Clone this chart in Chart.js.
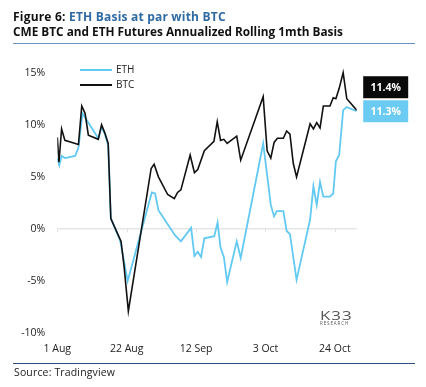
<!DOCTYPE html>
<html>
<head>
<meta charset="utf-8">
<script src="https://cdn.jsdelivr.net/npm/chart.js@4.4.0/dist/chart.umd.min.js"></script>
<style>
  body { margin: 0; background: #fff; font-family: 'Open Sans', sans-serif; }
  #wrap { position: relative; width: 426px; height: 387px; overflow: hidden; }
  #myChart { position: absolute; left: 0; top: 0; }
  .t1, .t2 { position: absolute; left: 13px; font-weight: 700; color: #111; white-space: nowrap; }
  .t1 { top: 8px; font-size: 12px; letter-spacing: 0.2px; }
  .t2 { top: 23px; font-size: 11.8px; }
  .t1 span { color: #2f6aa3; }
  .rule { position: absolute; left: 13px; width: 402px; height: 1px; }
  .src { position: absolute; left: 14px; top: 365px; font-size: 10.5px; letter-spacing: 0.15px; color: #222; }
  .logo { position: absolute; left: 320px; top: 309px; width: 32px; color: #555; line-height: 1; }
  .logo .k { font-size: 13.5px; letter-spacing: 0.8px; font-weight: 400; transform: scaleX(1.25); transform-origin: left; }
  .logo .r { font-size: 4.5px; letter-spacing: 0.9px; margin-top: -1.5px; }
</style>
</head>
<body>
<div id="wrap">
  <canvas id="myChart" width="426" height="387"></canvas>
  <div class="t1">Figure 6: <span>ETH Basis at par with BTC</span></div>
  <div class="t2">CME BTC and ETH Futures Annualized Rolling 1mth Basis</div>
  <div class="rule" style="top:43px;background:#6b93be;"></div>
  <div class="rule" style="top:363px;background:#2d4f7a;"></div>
  <div class="src">Source: Tradingview</div>
  <div class="logo"><div class="k">K33</div><div class="r">RESEARCH</div></div>
</div>
<script>
// days counted from 1 Aug
const btcDays = [0, 0.5, 1.3, 2.3, 6.4, 7.4, 8.4, 9.4, 12.4, 13.4, 14.4, 15.4, 16.2, 19.3, 20.2, 21.5, 28.4, 29.3, 30.6, 33.4, 35.4, 36.4, 37.4, 40.2, 41.5, 42.5, 44.5, 47.4, 48.4, 49.4, 50.4, 51.4, 54.3, 55.5, 62.3, 63.5, 64.6, 65.6, 66.6, 68.4, 69.4, 70.4, 71.4, 72.4, 76.5, 77.5, 78.5, 79.5, 80.5, 82.5, 83.5, 84.3, 85.3, 86.5, 87.6, 90.6];
const btcBasis = [8.8, 6.4, 9.6, 8.5, 8.1, 11.8, 11.1, 9.0, 8.6, 10.0, 9.2, 8.2, 1.0, -1.2, -3.6, -7.9, 5.8, 6.2, 5.0, 3.3, 2.9, 3.5, 3.75, 7.1, 5.4, 5.7, 7.5, 8.4, 10.3, 8.5, 8.6, 8.2, 8.9, 6.6, 12.7, 7.5, 6.8, 8.3, 8.7, 8.7, 9.4, 9.1, 6.3, 5.0, 10.1, 9.6, 10.2, 9.7, 11.8, 11.8, 12.6, 12.5, 13.5, 15.0, 12.5, 11.4];

const ethDays = [0, 0.6, 1.3, 2.3, 5.4, 6.4, 7.6, 12.4, 13.4, 14.4, 15.4, 16.2, 19.0, 21.3, 28.6, 29.6, 30.6, 35.6, 37.4, 40.5, 41.5, 42.5, 43.5, 44.5, 47.5, 48.5, 49.4, 50.4, 51.4, 54.3, 55.5, 62.3, 63.8, 64.6, 65.6, 66.4, 68.4, 69.4, 70.4, 72.4, 76.5, 77.5, 78.5, 79.5, 80.5, 82.5, 83.5, 84.3, 85.3, 86.5, 87.6, 90.6];
const ethBasis = [6.8, 6.1, 7.0, 6.8, 7.0, 7.8, 11.1, 8.7, 9.8, 9.1, 8.0, 1.0, -1.1, -5.0, 3.5, 3.4, 1.8, -0.6, -1.2, 0.1, -2.6, -2.2, -2.7, -0.9, -0.7, 0.6, -1.8, -2.7, -5.1, -1.2, -2.8, 8.2, 4.4, 2.3, 1.2, 1.7, 1.7, -0.2, -0.5, -4.9, 0.9, 4.1, 2.3, 4.5, 3.1, 3.1, 3.4, 6.5, 7.1, 11.4, 11.7, 11.3];

const xTickDays = [0, 21, 42, 63, 84];
const xTickLabels = ['1 Aug', '22 Aug', '12 Sep', '3 Oct', '24 Oct'];
const yTickValues = [-10, -5, 0, 5, 10, 15];

const ethColor = '#62c9f2';
const btcColor = '#111111';

const toPoints = (days, vals) => days.map((d, i) => ({ x: d, y: vals[i] }));

// legend, zero-line ticks and end labels
const extras = {
    id: 'extras',
    afterDatasetsDraw(chart) {
        const ctx = chart.ctx;
        const x = chart.scales.x, y = chart.scales.y;
        const y0 = y.getPixelForValue(0);
        ctx.save();
        ctx.strokeStyle = '#e3e3e3';
        ctx.lineWidth = 1;
        xTickDays.forEach(d => {
            const px = Math.round(x.getPixelForValue(d)) + 0.5;
            ctx.beginPath();
            ctx.moveTo(px, y0);
            ctx.lineTo(px, y0 + 3.5);
            ctx.stroke();
        });

        // legend
        ctx.font = '10px "Open Sans"';
        ctx.textBaseline = 'middle';
        chart.data.datasets.forEach((ds, i) => {
            const ly = 70 + i * 15;
            ctx.strokeStyle = ds.borderColor;
            ctx.lineWidth = 2;
            ctx.beginPath();
            ctx.moveTo(80, ly);
            ctx.lineTo(112, ly);
            ctx.stroke();
            ctx.fillStyle = '#222';
            ctx.fillText(ds.label, 116, ly + 0.5);
        });

        // end value boxes
        const lastEth = ethBasis[ethBasis.length - 1];
        const lastBtc = btcBasis[btcBasis.length - 1];
        const bx = chart.chartArea.right + 6.5;
        const ethY = y.getPixelForValue(lastEth);
        const btcY = ethY - 24;
        ctx.font = 'bold 10.5px "Open Sans"';
        ctx.textAlign = 'center';
        [[btcY, '#0a0a0a', lastBtc], [ethY, '#6ccbf2', lastEth]].forEach(([cy, col, v]) => {
            ctx.fillStyle = col;
            ctx.fillRect(bx, cy - 11, 45, 22);
            ctx.fillStyle = '#fff';
            ctx.fillText(v.toFixed(1) + '%', bx + 22.5, cy + 0.5);
        });
        ctx.restore();
    }
};

Chart.defaults.font.family = '"Open Sans", sans-serif';
Chart.defaults.color = '#222';

const ctx = document.getElementById('myChart').getContext('2d');
new Chart(ctx, {
    type: 'line',
    data: {
        datasets: [
            {
                label: 'ETH',
                data: toPoints(ethDays, ethBasis),
                borderColor: ethColor,
                borderWidth: 1.8,
                pointRadius: 0,
                order: 1
            },
            {
                label: 'BTC',
                data: toPoints(btcDays, btcBasis),
                borderColor: btcColor,
                borderWidth: 1.6,
                pointRadius: 0,
                order: 0
            }
        ]
    },
    options: {
        responsive: false,
        animation: false,
        devicePixelRatio: 1,
        layout: { padding: { top: 62.3, right: 69.3, left: 0, bottom: 22.8 } },
        plugins: { legend: { display: false }, tooltip: { enabled: false } },
        scales: {
            x: {
                type: 'linear',
                min: 0,
                max: 90.6,
                afterFit: s => { s.height = 26; },
                afterBuildTicks: s => { s.ticks = xTickDays.map(v => ({ value: v })); },
                ticks: {
                    padding: 5,
                    maxRotation: 0,
                    font: { size: 10.5 },
                    callback: v => xTickLabels[xTickDays.indexOf(v)]
                },
                grid: { display: false, drawTicks: false },
                border: { display: false }
            },
            y: {
                min: -10.5,
                max: 16,
                afterFit: s => { s.width = 57.3; },
                afterBuildTicks: s => { s.ticks = yTickValues.map(v => ({ value: v })); },
                ticks: {
                    padding: 12,
                    font: { size: 10.5 },
                    callback: v => v + '%'
                },
                grid: {
                    drawTicks: false,
                    lineWidth: 1.5,
                    color: c => (c.tick && c.tick.value === 0 ? '#e6e6e6' : 'rgba(0,0,0,0)')
                },
                border: { display: false }
            }
        }
    },
    plugins: [extras]
});
</script>
</body>
</html>
